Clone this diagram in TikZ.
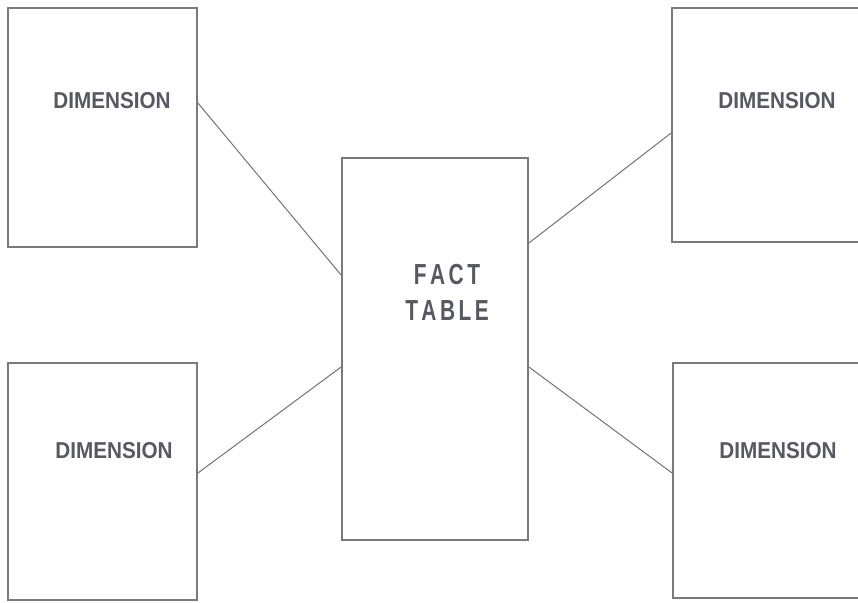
\documentclass[tikz,border=0pt]{standalone}
\usepackage{fontspec}
\setmainfont{Liberation Sans}
\usetikzlibrary{calc}
\definecolor{labelgray}{RGB}{88,88,98}
\tikzset{
  tablebox/.style={draw=black!52, line width=1.8pt, rectangle, inner sep=0pt, fill=white},
  link/.style={draw=black!55, line width=1pt},
  boxlabel/.style={text=labelgray, font=\bfseries\fontsize{23}{26}\selectfont, inner sep=0pt, align=center},
}
\newcommand{\narrowtext}[2]{\scalebox{#1}[1]{#2}}
\begin{document}
\begin{tikzpicture}[x=1pt,y=-1pt]
  \useasboundingbox (0,0) rectangle (858,602);
  \fill[white] (0,0) rectangle (858,602);

  % dimension tables and the central fact table
  \node[tablebox, minimum width=189pt, minimum height=239pt] (dimTL) at (102.5,127.5) {};
  \node[tablebox, minimum width=189pt, minimum height=237pt] (dimBL) at (102.5,481.5) {};
  \node[tablebox, minimum width=186pt, minimum height=382pt] (fact) at (435,349) {};
  \node[tablebox, minimum width=190pt, minimum height=234pt] (dimTR) at (767,125) {};
  \node[tablebox, minimum width=189pt, minimum height=235pt] (dimBR) at (767.5,480.5) {};

  % labels
  \node[boxlabel] (lblTL) at (112,101) {\narrowtext{0.9}{DIMENSION}};
  \node[boxlabel] (lblTR) at (777,101) {\narrowtext{0.9}{DIMENSION}};
  \node[boxlabel] (lblBL) at (114,451) {\narrowtext{0.9}{DIMENSION}};
  \node[boxlabel] (lblBR) at (778,451) {\narrowtext{0.9}{DIMENSION}};
  \node[boxlabel, font=\bfseries\fontsize{29}{37}\selectfont] (lblF) at (447,292)
    {\narrowtext{0.72}{F\,A\,C\,T}\\[-1pt]\narrowtext{0.72}{T\,A\,B\,L\,E}};

  % connectors from the fact table to each dimension
  \draw[link] ($(dimTL.east)+(0,-24.5)$) -- ($(fact.west)+(0,-74)$);
  \draw[link] ($(dimBL.east)+(0,-8.5)$) -- ($(fact.west)+(0,18)$);
  \draw[link] ($(fact.east)+(0,-106)$) -- ($(dimTR.west)+(0,8)$);
  \draw[link] ($(fact.east)+(0,18)$) -- ($(dimBR.west)+(0,-7.5)$);
\end{tikzpicture}
\end{document}
